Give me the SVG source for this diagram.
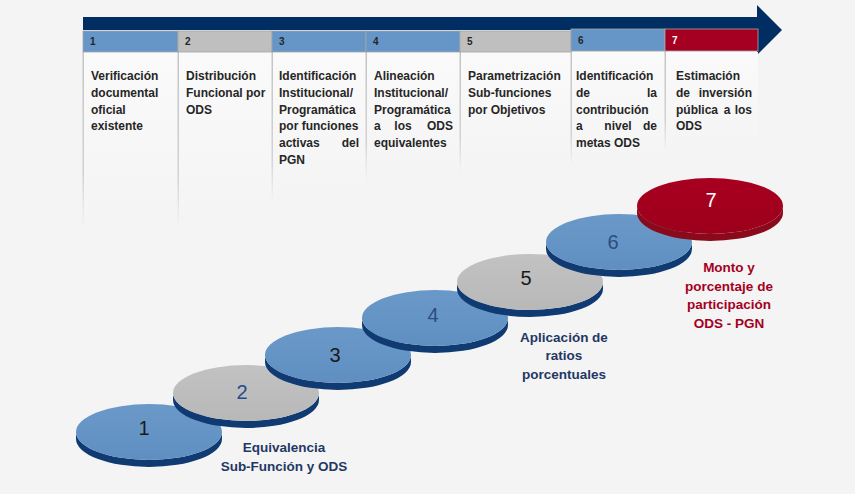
<svg xmlns="http://www.w3.org/2000/svg" width="855" height="494" viewBox="0 0 855 494">
  <defs>
    <linearGradient id="fadeLine" x1="0" y1="0" x2="0" y2="1">
      <stop offset="0" stop-color="#c4c4c4"/>
      <stop offset="0.7" stop-color="#d2d2d2"/>
      <stop offset="1" stop-color="#d2d2d2" stop-opacity="0"/>
    </linearGradient>
    <linearGradient id="fadeCol" x1="0" y1="0" x2="0" y2="1">
      <stop offset="0" stop-color="#fafafa"/>
      <stop offset="1" stop-color="#fafafa" stop-opacity="0"/>
    </linearGradient>
    <linearGradient id="blueFace" x1="0" y1="0" x2="0" y2="1">
      <stop offset="0" stop-color="#6a99c9"/>
      <stop offset="1" stop-color="#5f8fc1"/>
    </linearGradient>
    <linearGradient id="greyFace" x1="0" y1="0" x2="0" y2="1">
      <stop offset="0" stop-color="#c2c2c2"/>
      <stop offset="1" stop-color="#b8b8b8"/>
    </linearGradient>
    <linearGradient id="redFace" x1="0" y1="0" x2="0" y2="1">
      <stop offset="0" stop-color="#a80020"/>
      <stop offset="1" stop-color="#9c001b"/>
    </linearGradient>
  </defs>
  <style>
    .col { font-family: "Liberation Sans", Arial, sans-serif; font-weight: bold; font-size: 12px; fill: #262626; }
    .num { font-family: "Liberation Sans", Arial, sans-serif; font-weight: bold; font-size: 10px; fill: #262626; }
    .hdr { stroke: #a6a6a6; stroke-width: 0.8; }
    .blue { fill: #6596c7; }
    .grey { fill: #bfbfbf; }
    .red { fill: #a50021; }
    .rim { fill: #0f3a72; }
    .rimRed { fill: #8a0a1c; }
    .dnum { font-family: "Liberation Sans", Arial, sans-serif; font-size: 20px; text-anchor: middle; }
    .cap { font-family: "Liberation Sans", Arial, sans-serif; font-weight: bold; font-size: 13.5px; text-anchor: middle; }
  </style>

  <rect width="855" height="494" fill="#f4f4f4"/>

  <!-- timeline arrow -->
  <g id="timeline-arrow">
    <rect x="83" y="17" width="676" height="13" fill="#002e62"/>
    <polygon points="757,5 782,30 757,55" fill="#002e62"/>
  </g>

  <!-- column panels with fading borders -->
  <g id="columns">
    <rect x="84" y="52" width="94" height="170" fill="url(#fadeCol)"/>
    <rect x="179" y="52" width="93" height="170" fill="url(#fadeCol)"/>
    <rect x="273" y="52" width="93" height="150" fill="url(#fadeCol)"/>
    <rect x="367" y="52" width="93" height="125" fill="url(#fadeCol)"/>
    <rect x="461" y="52" width="110" height="120" fill="url(#fadeCol)"/>
    <rect x="572" y="52" width="93" height="115" fill="url(#fadeCol)"/>
    <rect x="666" y="52" width="92" height="100" fill="url(#fadeCol)"/>
    <rect x="82.5" y="52" width="1.5" height="176" fill="url(#fadeLine)"/>
    <rect x="177.5" y="52" width="1.5" height="176" fill="url(#fadeLine)"/>
    <rect x="271.5" y="52" width="1.5" height="150" fill="url(#fadeLine)"/>
    <rect x="365.5" y="52" width="1.5" height="128" fill="url(#fadeLine)"/>
    <rect x="459.5" y="52" width="1.5" height="120" fill="url(#fadeLine)"/>
    <rect x="570.5" y="51" width="1.5" height="115" fill="url(#fadeLine)"/>
    <rect x="664.5" y="51" width="1.5" height="100" fill="url(#fadeLine)"/>
  </g>

  <!-- step headers -->
  <g id="step-1">
    <rect class="blue hdr" x="83" y="31" width="95" height="21"/>
    <text class="num" x="90" y="45">1</text>
    <text class="col" x="91" y="80">Verificación</text>
    <text class="col" x="91" y="97">documental</text>
    <text class="col" x="91" y="113.5">oficial</text>
    <text class="col" x="91" y="130">existente</text>
  </g>
  <g id="step-2">
    <rect class="grey hdr" x="178" y="31" width="94" height="21"/>
    <text class="num" x="185" y="45">2</text>
    <text class="col" x="186" y="80">Distribución</text>
    <text class="col" x="186" y="97">Funcional por</text>
    <text class="col" x="186" y="113.5">ODS</text>
  </g>
  <g id="step-3">
    <rect class="blue hdr" x="272" y="31" width="94" height="21"/>
    <text class="num" x="279" y="45">3</text>
    <text class="col" x="279" y="80">Identificación</text>
    <text class="col" x="279" y="97">Institucional/</text>
    <text class="col" x="279" y="113.5">Programática</text>
    <text class="col" x="279" y="130">por funciones</text>
    <text class="col" x="279" y="147">activas</text>
    <text class="col" x="359" y="147" text-anchor="end">del</text>
    <text class="col" x="279" y="163.5">PGN</text>
  </g>
  <g id="step-4">
    <rect class="blue hdr" x="366" y="31" width="94" height="21"/>
    <text class="num" x="373" y="45">4</text>
    <text class="col" x="374" y="80">Alineación</text>
    <text class="col" x="374" y="97">Institucional/</text>
    <text class="col" x="374" y="113.5">Programática</text>
    <text class="col" x="374" y="130">a</text>
    <text class="col" x="403" y="130" text-anchor="middle">los</text>
    <text class="col" x="453" y="130" text-anchor="end">ODS</text>
    <text class="col" x="374" y="147">equivalentes</text>
  </g>
  <g id="step-5">
    <rect class="grey hdr" x="460" y="31" width="111" height="21"/>
    <text class="num" x="467" y="45">5</text>
    <text class="col" x="468" y="80">Parametrización</text>
    <text class="col" x="468" y="97">Sub-funciones</text>
    <text class="col" x="468" y="113.5">por Objetivos</text>
  </g>
  <g id="step-6">
    <rect class="blue hdr" x="571" y="29" width="94" height="22"/>
    <text class="num" x="578" y="44">6</text>
    <text class="col" x="576" y="80">Identificación</text>
    <text class="col" x="576" y="97">de</text>
    <text class="col" x="657" y="97" text-anchor="end">la</text>
    <text class="col" x="576" y="113.5">contribución</text>
    <text class="col" x="576" y="130">a</text>
    <text class="col" x="618" y="130" text-anchor="middle">nivel</text>
    <text class="col" x="657" y="130" text-anchor="end">de</text>
    <text class="col" x="576" y="147">metas ODS</text>
  </g>
  <g id="step-7">
    <rect class="red hdr" x="665" y="29" width="93" height="22"/>
    <text class="num" x="672" y="44" style="fill:#ffffff">7</text>
    <text class="col" x="676" y="80">Estimación</text>
    <text class="col" x="676" y="97">de</text>
    <text class="col" x="752" y="97" text-anchor="end">inversión</text>
    <text class="col" x="676" y="113.5">pública</text>
    <text class="col" x="727" y="113.5" text-anchor="middle">a</text>
    <text class="col" x="752" y="113.5" text-anchor="end">los</text>
    <text class="col" x="676" y="130">ODS</text>
  </g>

  <!-- stepping discs: rim (lower half band) then face -->
  <g id="disc-1">
    <path class="rim" d="M76,432 A73,28 0 0 0 222,432 L222,439 A73,28 0 0 1 76,439 Z"/>
    <ellipse cx="149" cy="432" rx="73" ry="28" fill="url(#blueFace)"/>
    <text class="dnum" x="144" y="435" fill="#1a1a1a">1</text>
  </g>
  <g id="disc-2">
    <path class="rim" d="M173,393 A73,28 0 0 0 319,393 L319,400 A73,28 0 0 1 173,400 Z"/>
    <ellipse cx="246" cy="393" rx="73" ry="28" fill="url(#greyFace)"/>
    <text class="dnum" x="242" y="399" fill="#1f4e8c">2</text>
  </g>
  <g id="disc-3">
    <path class="rim" d="M265,355 A73,28 0 0 0 411,355 L411,362 A73,28 0 0 1 265,362 Z"/>
    <ellipse cx="338" cy="355" rx="73" ry="28" fill="url(#blueFace)"/>
    <text class="dnum" x="335" y="362" fill="#1a1a1a">3</text>
  </g>
  <g id="disc-4">
    <path class="rim" d="M362,318 A73,28 0 0 0 508,318 L508,325 A73,28 0 0 1 362,325 Z"/>
    <ellipse cx="435" cy="318" rx="73" ry="28" fill="url(#blueFace)"/>
    <text class="dnum" x="433" y="322" fill="#2c4d80">4</text>
  </g>
  <g id="disc-5">
    <path class="rim" d="M457,282 A73,28 0 0 0 603,282 L603,289 A73,28 0 0 1 457,289 Z"/>
    <ellipse cx="530" cy="282" rx="73" ry="28" fill="url(#greyFace)"/>
    <text class="dnum" x="526" y="285" fill="#1a1a1a">5</text>
  </g>
  <g id="disc-6">
    <path class="rim" d="M546,242 A73,28 0 0 0 692,242 L692,249 A73,28 0 0 1 546,249 Z"/>
    <ellipse cx="619" cy="242" rx="73" ry="28" fill="url(#blueFace)"/>
    <text class="dnum" x="613" y="249" fill="#2c4d80">6</text>
  </g>
  <g id="disc-7">
    <path class="rimRed" d="M637,206 A73,28 0 0 0 783,206 L783,213 A73,28 0 0 1 637,213 Z"/>
    <ellipse cx="710" cy="206" rx="73" ry="28" fill="url(#redFace)"/>
    <text class="dnum" x="711" y="207" fill="#ffffff">7</text>
  </g>

  <!-- captions -->
  <g id="caption-equivalencia" class="cap" fill="#1f3864">
    <text x="284" y="452">Equivalencia</text>
    <text x="284" y="471">Sub-Función y ODS</text>
  </g>
  <g id="caption-aplicacion" class="cap" fill="#1f3864">
    <text x="564" y="342">Aplicación de</text>
    <text x="564" y="360">ratios</text>
    <text x="564" y="379">porcentuales</text>
  </g>
  <g id="caption-monto" class="cap" fill="#a50021">
    <text x="729" y="272">Monto y</text>
    <text x="729" y="291">porcentaje de</text>
    <text x="729" y="309">participación</text>
    <text x="729" y="328">ODS - PGN</text>
  </g>
</svg>
